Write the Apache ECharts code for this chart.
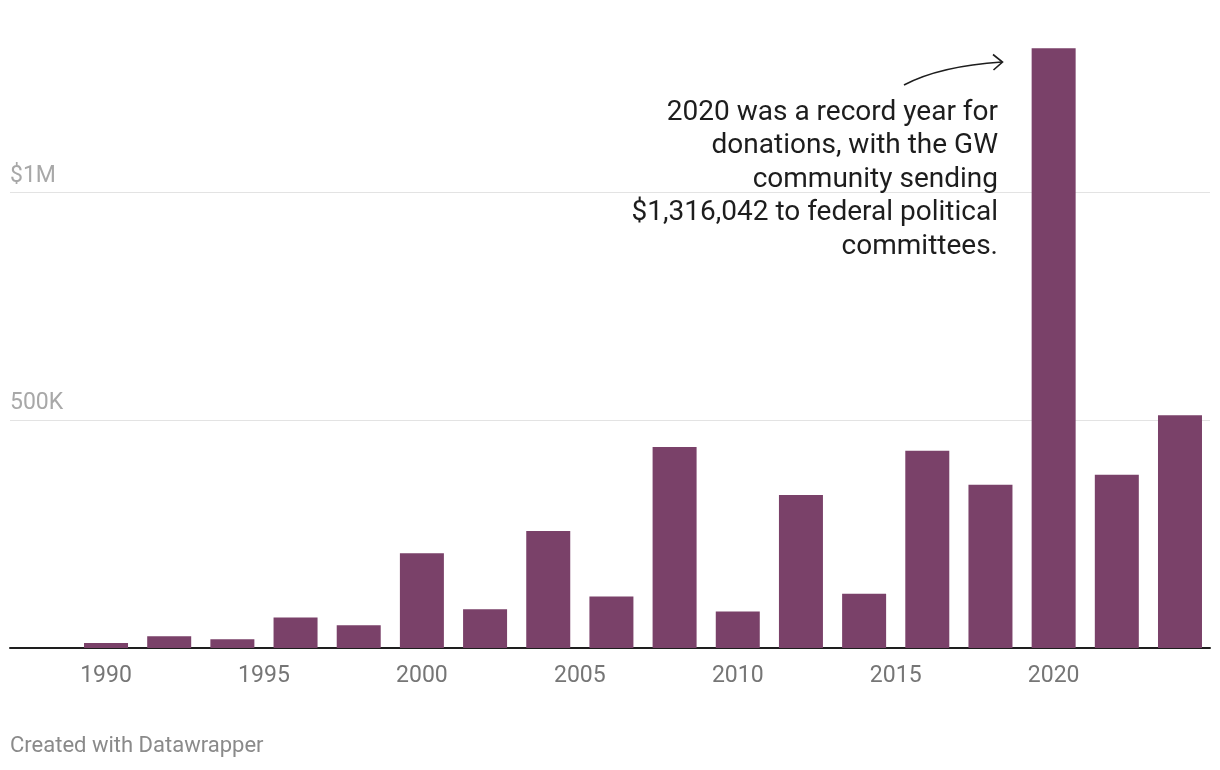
<!DOCTYPE html>
<html>
<head>
<meta charset="utf-8">
<script src="https://cdn.jsdelivr.net/npm/echarts@6/dist/echarts.min.js"></script>
<style>
html,body{margin:0;padding:0;background:#fff;}
#chart{width:1220px;height:770px;}
</style>
</head>
<body>
<div id="chart"></div>
<script>
const years = [1990,1992,1994,1996,1998,2000,2002,2004,2006,2008,2010,2012,2014,2016,2018,2020,2022,2024];
const donations = [11000,26000,19000,67000,50000,208000,85000,257000,113000,441000,80000,336000,119000,433000,358000,1316042,380000,511000];
const xTickYears = [1990,1995,2000,2005,2010,2015,2020];
const yTicks = [500000,1000000];
const yTickLabels = {500000:'500K',1000000:'$1M'};
const annotationLines = [
  '2020 was a record year for',
  'donations, with the GW',
  'community sending',
  '$1,316,042 to federal political',
  'committees.'
];
const footer = 'Created with Datawrapper';

const chart = echarts.init(document.getElementById('chart'), null, {renderer:'canvas'});
chart.setOption({
  animation:false,
  backgroundColor:'#ffffff',
  grid:{left:10,right:10,top:10,bottom:122,containLabel:false},
  xAxis:{
    type:'value',
    min:1986.96,
    max:2024.95,
    axisLine:{show:true,lineStyle:{color:'#1e1e1e',width:2}},
    axisTick:{show:false},
    splitLine:{show:false},
    axisLabel:{
      customValues:xTickYears,
      color:'#767676',
      fontFamily:'Roboto',
      fontSize:23,
      margin:17,
      formatter:v=>String(v)
    }
  },
  yAxis:{
    type:'value',
    min:0,
    max:1400000,
    interval:500000,
    axisLine:{show:false},
    axisTick:{show:false},
    splitLine:{show:true,showMinLine:false,showMaxLine:false,lineStyle:{color:'#e3e3e3',width:1}},
    axisLabel:{
      inside:true,
      showMinLabel:false,
      showMaxLabel:false,
      margin:0,
      color:'#a8a8a8',
      fontFamily:'Roboto',
      fontSize:23,
      verticalAlign:'bottom',
      align:'left',
      padding:[0,0,5,0],
      formatter:v=>yTickLabels[v]||''
    }
  },
  series:[{
    type:'bar',
    data:years.map((y,i)=>[y,donations[i]]),
    barWidth:44,
    itemStyle:{color:'#7a4169'},
    z:3
  }],
  graphic:[
    {
      type:'text',
      x:998,
      y:96,
      z:10,
      style:{
        text:annotationLines.join('\n'),
        align:'right',
        verticalAlign:'top',
        fill:'#1d1d1d',
        font:'28px Roboto',
        lineHeight:33.5
      }
    },
    {
      type:'bezierCurve',
      z:10,
      shape:{x1:904,y1:85,cpx1:940,cpy1:66,x2:1002,y2:62},
      style:{stroke:'#1d1d1d',lineWidth:1.6,fill:null}
    },
    {
      type:'polyline',
      z:10,
      shape:{points:[[993,54.5],[1002.5,62],[993.5,70]]},
      style:{stroke:'#1d1d1d',lineWidth:1.6,fill:null}
    },
    {
      type:'text',
      x:10,
      y:746,
      style:{
        text:footer,
        fill:'#8a8a8a',
        font:'22px Roboto',
        verticalAlign:'middle',
        align:'left'
      }
    }
  ]
});
</script>
</body>
</html>
